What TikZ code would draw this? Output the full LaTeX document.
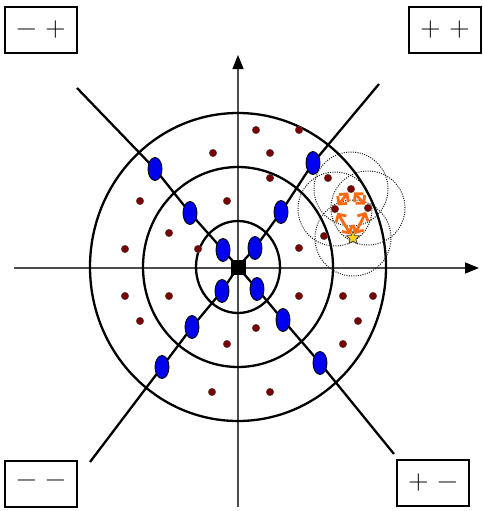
\documentclass[tikz,border=0pt]{standalone}
\usetikzlibrary{arrows.meta,shapes.geometric,backgrounds}
\definecolor{maroon}{HTML}{7A0000}
\definecolor{bblue}{HTML}{0000F0}
\definecolor{orng}{HTML}{FF6A10}
\definecolor{staryel}{HTML}{FFD21A}
\begin{document}
\begin{tikzpicture}[x=1pt,y=-1pt,
 dot/.style={circle,fill=maroon,draw=black!70,line width=0.4pt,inner sep=0pt,minimum size=7.5pt},
 blob/.style={ellipse,fill=bblue,draw=black,line width=0.9pt,inner sep=0pt,minimum width=14pt,minimum height=23pt},
 ring/.style={line width=2.3pt},
 axis/.style={line width=1.4pt,draw=black!70,-{Triangle[length=14pt,width=11pt,color=black]}},
 diag/.style={line width=2.3pt},
 sign/.style={draw,line width=1.6pt,minimum width=72pt,minimum height=46pt,inner sep=0pt,font=\fontsize{28}{32}\selectfont},
 probe/.style={draw=black!90,line width=1pt,dash pattern=on 1pt off 1.3pt},
 hop/.style={draw=orng,line width=2.8pt,{Straight Barb[length=5.5pt,width=12pt]}-{Straight Barb[length=5.5pt,width=12pt]},shorten <=0.5pt,shorten >=0.5pt}
]
\useasboundingbox (0,0) rectangle (482,511);

% centre and axes ends
\node (O) [fill=black,minimum size=15pt,inner sep=0pt] at (238,267) {};
\coordinate (xl) at (14,268);
\coordinate (xr) at (479,268);
\coordinate (yb) at (238,507);
\coordinate (yt) at (238,55);

% diagonal ends
\coordinate (ulE) at (77,88);
\coordinate (urE) at (379,84);
\coordinate (llE) at (90,462);
\coordinate (lrE) at (394,454);

% blue nodes
\node[blob] (ul3) at (155,169) {};
\node[blob] (ul2) at (190,213) {};
\node[blob] (ul1) at (223,250) {};
\node[blob] (ur3) at (313,163) {};
\node[blob] (ur2) at (281,212) {};
\node[blob] (ur1) at (255,248) {};
\node[blob] (ll1) at (222,291) {};
\node[blob] (ll2) at (192,327) {};
\node[blob] (ll3) at (162,367) {};
\node[blob] (lr1) at (257,289) {};
\node[blob] (lr2) at (283,320) {};
\node[blob] (lr3) at (320,363) {};

% maroon dots
\node[dot] (d1) at (256,130) {};
\node[dot] (d2) at (299,130) {};
\node[dot] (d3) at (213,153) {};
\node[dot] (d4) at (270,153) {};
\node[dot] (d5) at (270,178) {};
\node[dot] (d6) at (328,178) {};
\node[dot] (d7) at (140,201) {};
\node[dot] (d8) at (227,201) {};
\node[dot] (d9) at (169,233) {};
\node[dot] (d10) at (125,249) {};
\node[dot] (d11) at (198,249) {};
\node[dot] (d12) at (324,236) {};
\node[dot] (d13) at (299,248) {};
\node[dot] (d14) at (125,296) {};
\node[dot] (d15) at (169,296) {};
\node[dot] (d16) at (140,321) {};
\node[dot] (d17) at (256,328) {};
\node[dot] (d18) at (227,344) {};
\node[dot] (d19) at (212,392) {};
\node[dot] (d20) at (270,392) {};
\node[dot] (d21) at (299,296) {};
\node[dot] (d22) at (343,296) {};
\node[dot] (d23) at (373,296) {};
\node[dot] (d24) at (358,321) {};
\node[dot] (d25) at (343,344) {};
% probing group
\node[dot] (A) at (351,189) {};
\node[dot] (B) at (335,209) {};
\node[dot] (C) at (368,208) {};
\node[star,star points=5,star point ratio=2.3,fill=staryel,draw=black!80,line width=0.6pt,inner sep=0pt,minimum size=14pt] (S) at (353,238) {};

\begin{scope}[on background layer]
  \draw[axis] (xl) -- (xr);
  \draw[axis] (yb) -- (yt);
  \draw[ring] (O.center) ellipse [x radius=42pt,y radius=46pt];
  \draw[ring] (O.center) ellipse [x radius=95pt,y radius=100pt];
  \draw[ring] (O.center) ellipse [x radius=148pt,y radius=154pt];
  \draw[diag] (ulE) -- (ul3.center) -- (ul2.center) -- (ul1.center) -- (O.center);
  \draw[diag] (urE) -- (ur3.center) -- (ur2.center) -- (ur1.center) -- (O.center);
  \draw[diag] (llE) -- (ll3.center) -- (ll2.center) -- (ll1.center) -- (O.center);
  \draw[diag] (lrE) -- (lr3.center) -- (lr2.center) -- (lr1.center) -- (O.center);
  \draw[probe] (A.center) circle [radius=37pt];
  \draw[probe] (B.center) circle [radius=37pt];
  \draw[probe] (C.center) circle [radius=37pt];
  \draw[probe] (S.center) circle [radius=38pt];
\end{scope}

% orange hops
\draw[hop] (A) -- (B);
\draw[hop] (A) -- (C);
\draw[hop] (B) -- (S);
\draw[hop] (C) -- (S);

% corner sign boxes
\node[sign] (tl) at (41,30) {−\hspace{9pt}+};
\node[sign] (tr) at (445,30) {+\hspace{9pt}+};
\node[sign] (bl) at (41,484) {−\hspace{9pt}−};
\node[sign] (br) at (433,483) {+\hspace{9pt}−};
\end{tikzpicture}
\end{document}
